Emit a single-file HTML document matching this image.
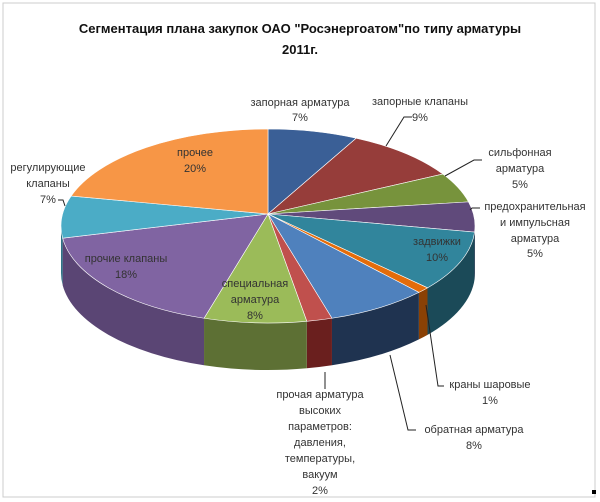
<!DOCTYPE html>
<html><head><meta charset="utf-8"><style>
body{margin:0;background:#fff}
#c{position:relative;width:600px;height:502px;overflow:hidden;font-family:"Liberation Sans","Noto Sans CJK SC",sans-serif}
svg text{font-family:"Liberation Sans","Noto Sans CJK SC",sans-serif;font-size:11px;fill:#333}
</style></head><body><div id="c">
<svg id="s" width="600" height="502" xmlns="http://www.w3.org/2000/svg">
<rect x="3" y="3" width="592" height="494" fill="#fff" stroke="#ccc"/>
<text x="300" y="33" text-anchor="middle" style="font-size:13px;font-weight:bold;fill:#111">Сегментация плана закупок ОАО "Росэнергоатом"по типу арматуры</text>
<text x="300" y="54" text-anchor="middle" style="font-size:13px;font-weight:bold;fill:#111">2011г.</text>
<g id="pie"></g>
<g stroke="#222" stroke-width="1" fill="none">
<polyline points="412,117 404,117 386,146"/>
<polyline points="482,160 474,160 445,176"/>
<polyline points="480,208 472,208 470,210"/>
<polyline points="426,305 438,386 444,386"/>
<polyline points="390,355 408,430 416,430"/>
<polyline points="325,372 325,389"/>
<polyline points="58,200 63,200 65,206"/>
</g>
<g text-anchor="middle">
<text x="300" y="106">запорная арматура</text><text x="300" y="121">7%</text>
<text x="420" y="105">запорные клапаны</text><text x="420" y="121">9%</text>
<text x="520" y="156">сильфонная</text><text x="520" y="172">арматура</text><text x="520" y="188">5%</text>
<text x="535" y="210">предохранительная</text><text x="535" y="226">и импульсная</text><text x="535" y="242">арматура</text><text x="535" y="257">5%</text>
<text x="437" y="245">задвижки</text><text x="437" y="261">10%</text>
<text x="490" y="388">краны шаровые</text><text x="490" y="404">1%</text>
<text x="474" y="433">обратная арматура</text><text x="474" y="449">8%</text>
<text x="320" y="398">прочая арматура</text><text x="320" y="414">высоких</text><text x="320" y="430">параметров:</text><text x="320" y="446">давления,</text><text x="320" y="462">температуры,</text><text x="320" y="478">вакуум</text><text x="320" y="494">2%</text>
<text x="255" y="287">специальная</text><text x="255" y="303">арматура</text><text x="255" y="319">8%</text>
<text x="126" y="262">прочие клапаны</text><text x="126" y="278">18%</text>
<text x="48" y="171">регулирующие</text><text x="48" y="187">клапаны</text><text x="48" y="203">7%</text>
<text x="195" y="156">прочее</text><text x="195" y="172">20%</text>
</g>
<rect x="592" y="490" width="4" height="4" fill="#000"/>
</svg>
<script>
var cx=268,cy=226,rx=207,ry=97,d=47,ax=268,ay=214;
var data=[[7,"#3A5F96","#24406a"],[9,"#963D3A","#6a2523"],[5,"#77933C","#4f6426"],[5,"#604A7B","#3f2f52"],[10,"#31859C","#1b4a58"],[1,"#E46C0A","#8a4105"],[8,"#4F81BD","#1f3350"],[2,"#C0504D","#6a1f1e"],[8,"#9BBB59","#5d7034"],[18,"#8064A2","#5a4574"],[7,"#4BACC6","#2f7487"],[20,"#F79646","#b06a2f"]];
function P(t,dy){t=t*Math.PI/180;return [cx+rx*Math.sin(t),cy-ry*Math.cos(t)+(dy||0)];}
var g=document.getElementById("pie"),a=0,sides="",tops="";
data.forEach(function(s){var b=a+s[0]*3.6;
 var s0=Math.max(a,90),s1=Math.min(b,270);
 if(s1>s0){var p0=P(s0),p1=P(s1),q1=P(s1,d),q0=P(s0,d);
  sides+='<path fill="'+s[2]+'" d="M'+p0+' A'+rx+','+ry+' 0 0 1 '+p1+' L'+q1+' A'+rx+','+ry+' 0 0 0 '+q0+' Z"/>';}
 var p0=P(a),p1=P(b);
 tops+='<path fill="'+s[1]+'" stroke="#fff" stroke-width="0.6" d="M'+ax+','+ay+' L'+p0+' A'+rx+','+ry+' 0 '+((b-a)>180?1:0)+' 1 '+p1+' Z"/>';
 a=b;});
g.innerHTML=sides+tops;
</script>
</div></body></html>
